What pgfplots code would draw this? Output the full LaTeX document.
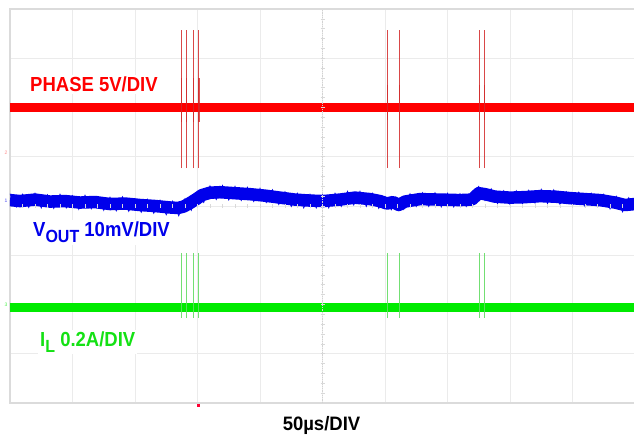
\documentclass[border=0pt]{standalone}
\usepackage{pgfplots}
\pgfplotsset{compat=1.18}
\usepackage{fontspec}
\setmainfont{Liberation Sans}
\definecolor{trred}{RGB}{255,0,0}
\definecolor{spred}{RGB}{210,40,40}
\definecolor{trblue}{RGB}{0,0,235}
\definecolor{trgreen}{RGB}{0,235,0}
\definecolor{spgreen}{RGB}{100,220,100}
\definecolor{lblgreen}{RGB}{20,225,20}
\begin{document}
\begin{tikzpicture}[x=1pt,y=1pt]
\useasboundingbox (0,0) rectangle (634,436);
\begin{axis}[at={(10pt,33pt)}, anchor=south west, scale only axis,
  width=625pt, height=394pt,
  xmin=0, xmax=10, ymin=0, ymax=8,
  xtick={0,...,10}, ytick={0,...,8},
  xticklabels={}, yticklabels={},
  major tick length=0pt,
  grid=major, major grid style={draw=gray!16, line width=0.9pt},
  axis line style={draw=gray!28, line width=1.3pt},
  clip=true]
% PHASE baseline
\addplot[trred, line width=9pt] coordinates {(0,6.0) (10,6.0)};
% PHASE spikes
\addplot[spred, line width=0.9pt, opacity=0.85, unbounded coords=jump] table {
x y
2.736 4.77
2.736 7.57
nan nan
2.816 4.77
2.816 7.57
nan nan
2.928 4.77
2.928 7.57
nan nan
3.016 4.77
3.016 7.57
nan nan
6.032 4.77
6.032 7.57
nan nan
6.224 4.77
6.224 7.57
nan nan
7.504 4.77
7.504 7.57
nan nan
7.584 4.77
7.584 7.57
};
\addplot[spred, line width=1.6pt, opacity=0.8, unbounded coords=jump] table {
x y
2.742 5.70
2.742 6.60
nan nan
2.822 5.70
2.822 6.60
nan nan
2.934 5.70
2.934 6.60
nan nan
3.022 5.70
3.022 6.60
nan nan
6.038 5.75
6.038 6.45
nan nan
6.230 5.75
6.230 6.45
nan nan
7.510 5.75
7.510 6.45
nan nan
7.590 5.75
7.590 6.45
};
% VOUT
\addplot[trblue, line width=12.5pt, line join=round] table {
x y
0.00 4.12
0.16 4.10
0.40 4.13
0.64 4.09
0.88 4.10
1.12 4.07
1.36 4.08
1.60 4.04
1.84 4.05
2.08 4.02
2.32 4.00
2.56 3.97
2.69 3.96
2.78 3.99
2.88 4.06
2.98 4.14
3.07 4.22
3.20 4.27
3.36 4.28
3.60 4.26
3.84 4.24
4.08 4.21
4.32 4.17
4.56 4.13
4.80 4.11
5.01 4.10
5.28 4.13
5.52 4.17
5.76 4.14
5.92 4.10
6.03 4.05
6.13 4.08
6.22 4.02
6.32 4.09
6.56 4.14
6.88 4.13
7.20 4.12
7.39 4.13
7.50 4.26
7.60 4.24
7.76 4.19
8.00 4.17
8.24 4.18
8.48 4.20
8.72 4.19
8.96 4.16
9.20 4.14
9.44 4.12
9.68 4.07
9.84 4.02
10.0 4.04
};
% VOUT noise envelope
\addplot[trblue, line width=0.7pt] table {
x y
0.00 4.25
0.10 3.98
0.20 4.24
0.30 3.97
0.40 4.26
0.50 3.96
0.60 4.23
0.70 3.95
0.80 4.24
0.90 3.96
1.00 4.21
1.10 3.93
1.20 4.22
1.30 3.94
1.40 4.19
1.50 3.91
1.60 4.18
1.70 3.90
1.80 4.19
1.90 3.89
2.00 4.15
2.10 3.87
2.20 4.14
2.30 3.85
2.40 4.12
2.50 3.82
2.60 4.10
2.70 3.80
2.80 4.15
2.90 3.91
3.00 4.28
3.10 4.07
3.20 4.41
3.30 4.13
3.40 4.42
3.50 4.12
3.60 4.40
3.70 4.11
3.80 4.38
3.90 4.09
4.00 4.36
4.10 4.07
4.20 4.33
4.30 4.03
4.40 4.29
4.50 3.99
4.60 4.26
4.70 3.96
4.80 4.24
4.90 3.96
5.00 4.23
5.10 3.96
5.20 4.26
5.30 3.99
5.40 4.30
5.50 4.02
5.60 4.30
5.70 3.99
5.80 4.26
5.90 3.95
6.00 4.19
6.10 3.92
6.20 4.16
6.30 3.93
6.40 4.25
6.50 3.99
6.60 4.27
6.70 3.99
6.80 4.27
6.90 3.98
7.00 4.26
7.10 3.98
7.20 4.25
7.30 3.99
7.40 4.28
7.50 4.40
7.60 4.11
7.70 4.35
7.80 4.05
7.90 4.31
8.00 4.03
8.10 4.31
8.20 4.04
8.30 4.32
8.40 4.06
8.50 4.34
8.60 4.05
8.70 4.33
8.80 4.03
8.90 4.29
9.00 4.01
9.10 4.28
9.20 3.99
9.30 4.26
9.40 3.98
9.50 4.24
9.60 3.94
9.70 4.20
9.80 3.88
9.90 4.17
10.0 3.90
};
% IL baseline
\addplot[trgreen, line width=9.5pt] coordinates {(0,1.94) (10,1.94)};
% IL spikes
\addplot[spgreen, line width=0.9pt, opacity=0.9, unbounded coords=jump] table {
x y
2.736 1.73
2.736 3.05
nan nan
2.816 1.73
2.816 3.05
nan nan
2.928 1.73
2.928 3.05
nan nan
3.016 1.73
3.016 3.05
nan nan
6.032 1.73
6.032 3.05
nan nan
6.224 1.73
6.224 3.05
nan nan
7.504 1.73
7.504 3.05
nan nan
7.584 1.73
7.584 3.05
};
\end{axis}
% centre graticule with minor ticks
\draw[gray!35, line width=0.8pt, densely dotted] (322.5,33) -- (322.5,427);
\foreach \k in {1,...,39} \draw[gray!30, line width=0.6pt] (320.5,33+\k*9.85) -- (324.5,33+\k*9.85);
\foreach \k in {1,...,49} \draw[gray!30, line width=0.6pt] (10+\k*12.5,228) -- (10+\k*12.5,232);
% channel markers and trigger marker
\node[text=red!45, font=\fontsize{5}{5}\selectfont, inner sep=0pt] at (6,283) {2};
\node[text=trblue!70, font=\fontsize{5}{5}\selectfont, inner sep=0pt] at (6,235) {1};
\node[text=trgreen!70, font=\fontsize{5}{5}\selectfont, inner sep=0pt] at (6,131) {3};
\fill[red!80!magenta] (196.5,29) rectangle (199.5,32);
% labels
\node[anchor=west, fill=white, inner sep=2pt, text=trred, font=\bfseries\fontsize{18.5}{20}\selectfont] at (28,351.5) {\scalebox{1}[1.1]{PHASE 5V/DIV}};
\node[anchor=base west, fill=white, inner sep=2pt, text=trblue, font=\bfseries\fontsize{18.5}{20}\selectfont] at (31,199) {\scalebox{1}[1.1]{V\raisebox{-5pt}{\fontsize{16}{17}\selectfont OUT} 10mV/DIV}};
\node[anchor=base west, fill=white, inner sep=2pt, text=lblgreen, font=\bfseries\fontsize{18.5}{20}\selectfont] at (38,89) {\scalebox{1}[1.1]{I\raisebox{-5pt}{\fontsize{16}{17}\selectfont L} 0.2A/DIV}};
\node[anchor=base, inner sep=0pt, text=black, font=\bfseries\fontsize{18.5}{20}\selectfont] at (321.5,5) {\scalebox{1}[1.05]{50µs/DIV}};
\end{tikzpicture}
\end{document}
